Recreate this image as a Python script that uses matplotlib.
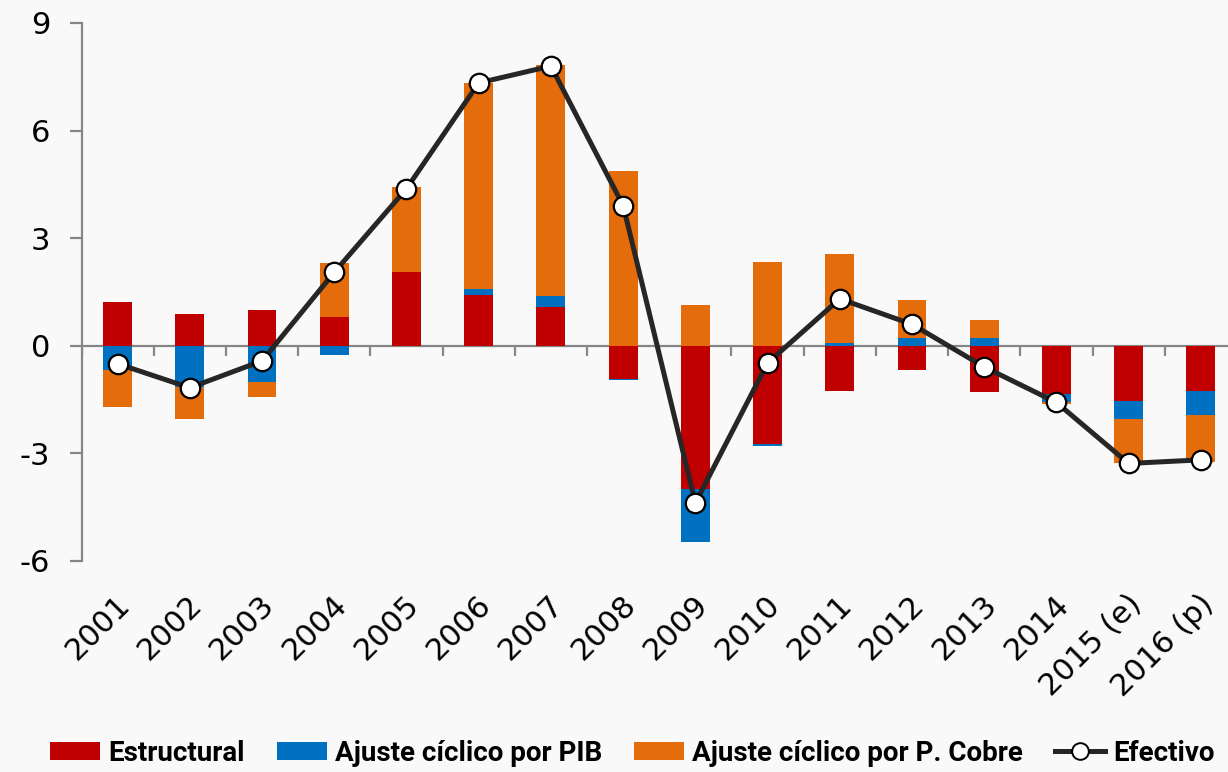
import matplotlib.pyplot as plt
import matplotlib.transforms as mtransforms
from matplotlib.patches import Patch
from matplotlib.lines import Line2D
import numpy as np

# Data
years = ['2001', '2002', '2003', '2004', '2005', '2006', '2007', '2008',
         '2009', '2010', '2011', '2012', '2013', '2014', '2015 (e)', '2016 (p)']
estructural = [1.21, 0.88, 1.01, 0.80, 2.05, 1.41, 1.08, -0.92,
               -4.00, -2.75, -1.25, -0.67, -1.29, -1.33, -1.54, -1.26]
ajuste_pib = [-0.67, -1.15, -1.00, -0.25, 0.00, 0.18, 0.32, -0.03,
              -1.48, -0.05, 0.07, 0.23, 0.23, -0.23, -0.50, -0.67]
ajuste_cobre = [-1.03, -0.90, -0.43, 1.50, 2.39, 5.75, 6.42, 4.86,
                1.15, 2.34, 2.50, 1.04, 0.49, -0.07, -1.22, -1.30]
efectivo = [-0.50, -1.17, -0.42, 2.05, 4.38, 7.33, 7.80, 3.91,
            -4.38, -0.48, 1.31, 0.60, -0.59, -1.58, -3.28, -3.18]

series = [('Estructural', estructural, '#C00000'),
          ('Ajuste cíclico por PIB', ajuste_pib, '#0070C0'),
          ('Ajuste cíclico por P. Cobre', ajuste_cobre, '#E46C0A')]

bg = '#F9F9F9'
grey = '#868686'

fig = plt.figure(figsize=(12.28, 7.72), dpi=100, facecolor=bg)
ax = fig.add_axes([81.5 / 1228, 1 - 561 / 772, (1237 - 81.5) / 1228, 538 / 772])
ax.set_facecolor(bg)

x = np.arange(len(years))

# stack positives up and negatives down, like Excel does
pos = np.zeros(len(years))
neg = np.zeros(len(years))
for name, vals, col in series:
    v = np.array(vals)
    bottom = np.where(v >= 0, pos, neg)
    ax.bar(x, v, 0.4, bottom=bottom, color=col, zorder=2)
    pos = pos + np.where(v >= 0, v, 0)
    neg = neg + np.where(v < 0, v, 0)

ax.plot(x, efectivo, color='#262626', lw=3.6, marker='o', markersize=14,
        markerfacecolor='white', markeredgecolor='black', markeredgewidth=1.6,
        zorder=4)

# category axis at zero with boundary ticks
ax.axhline(0, color=grey, lw=1.6, zorder=1)
ax.vlines(np.arange(len(years)) - 0.5, 0, -0.28, color=grey, lw=1.6, zorder=1)

ax.set_xlim(-0.5, len(years) - 0.5)
ax.set_ylim(-6, 9)
ax.set_yticks([-6, -3, 0, 3, 6, 9])
ax.set_yticklabels(['-6', '-3', '0', '3', '6', '9'])

for s in ['top', 'right', 'bottom']:
    ax.spines[s].set_visible(False)
ax.spines['left'].set_color(grey)
ax.spines['left'].set_linewidth(1.6)
ax.tick_params(axis='y', direction='out', length=8.5, width=1.6, color=grey,
               labelsize=22, pad=14, labelcolor='black')

ax.set_xticks(x)
ax.set_xticklabels(years, rotation=45, ha='right', va='center',
                   rotation_mode='anchor', fontsize=22)
ax.tick_params(axis='x', length=0, pad=28)
offset = mtransforms.ScaledTranslation(8 / 100, 0, fig.dpi_scale_trans)
for lab in ax.get_xticklabels():
    lab.set_transform(lab.get_transform() + offset)

handles = [Patch(facecolor=c, label=n) for n, _, c in series]
handles.append(Line2D([], [], color='#262626', lw=3.6, marker='o', markersize=12,
                      markerfacecolor='white', markeredgecolor='black',
                      markeredgewidth=1.4, label='Efectivo'))
leg = fig.legend(handles=handles, loc='center', bbox_to_anchor=(0.515, 0.024),
                 ncol=4, frameon=False, handlelength=1.8, handleheight=0.65,
                 handletextpad=0.3, columnspacing=1.15,
                 prop={'family': ['Roboto', 'DejaVu Sans'],
                       'weight': 'bold', 'size': 20})

fig.savefig('out.png', dpi=100, facecolor=bg)
